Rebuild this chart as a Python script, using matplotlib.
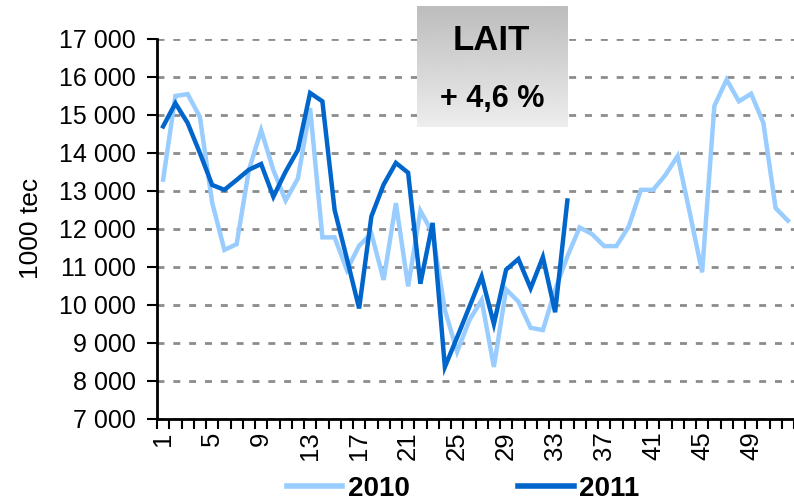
import numpy as np
import matplotlib
matplotlib.use("Agg")
import matplotlib.pyplot as plt
from matplotlib.ticker import FuncFormatter

plt.rcParams['font.family'] = ['Liberation Sans', 'DejaVu Sans']

# weekly milk volumes (1000 tec)
weeks_2010 = np.arange(1, 53)
lait_2010 = [13300, 15500, 15550, 14950, 12700, 11450, 11600, 13550, 14600, 13550,
             12750, 13330, 15180, 11780, 11780, 10920, 11560, 11880, 10660, 12680,
             10490, 12480, 11890, 9870, 8770, 9600, 10130, 8370, 10410, 10090,
             9400, 9340, 10400, 11280, 12040, 11870, 11550, 11550, 12060, 13030,
             13030, 13420, 13920, 12410, 10860, 15240, 15930, 15360, 15560, 14790,
             12550, 12220]
weeks_2011 = np.arange(1, 35)
lait_2011 = [14700, 15310, 14790, 14000, 13160, 13030, 13290, 13560, 13710, 12850,
             13510, 14080, 15580, 15360, 12500, 11220, 9910, 12330, 13170, 13740,
             13480, 10560, 12160, 8370, 9150, 9950, 10750, 9500, 10930, 11210,
             10440, 11260, 9810, 12750]
week_labels = list(range(1, 50, 4))
title = "LAIT"
change = "+ 4,6 %"

W, H = 794, 503
fig = plt.figure(figsize=(W / 100, H / 100), dpi=100)
ax = fig.add_axes([157 / W, 1 - 419 / H, 1 - 157 / W, 380 / H])

ax.plot(weeks_2010, lait_2010, color="#99ccff", lw=3.2, label="2010", solid_joinstyle="miter")
ax.plot(weeks_2011, lait_2011, color="#0066cc", lw=3.2, label="2011", solid_joinstyle="miter")

ax.set_ylim(7000, 17000)
ax.set_xlim(0.5, 52.06)
ax.set_yticks(np.arange(7000, 17001, 1000))
ax.yaxis.set_major_formatter(FuncFormatter(lambda v, p: f"{int(v):,}".replace(",", " ")))
ax.grid(axis="y", color="#8c8c8c", lw=2, linestyle=(0, (2.5, 3.2)))
ax.set_axisbelow(True)

ax.set_xticks(np.arange(0.5, 53, 1))
ax.set_xticklabels([])
ax.set_xticks(week_labels, minor=True)
ax.set_xticklabels([str(w) for w in week_labels], minor=True, rotation=90, fontsize=18.5)
ax.tick_params(axis="x", which="major", direction="out", length=7, width=1.5)
ax.tick_params(axis="x", which="minor", length=0, pad=9)
ax.tick_params(axis="y", direction="out", length=7, width=1.5, pad=8, labelsize=18)

for s in ["top", "right"]:
    ax.spines[s].set_visible(False)
for s in ["left", "bottom"]:
    ax.spines[s].set_linewidth(2)

fig.text(31 / W, 1 - 228 / H, "1000 tec", rotation=90, ha="center", va="center", fontsize=19)

leg = fig.legend(loc="center", bbox_to_anchor=(463 / W, 1 - 489 / H), ncol=2, frameon=False,
                 prop={"weight": "bold", "size": 20}, handlelength=2.0, handletextpad=0.2,
                 columnspacing=3.9)
for line in leg.get_lines():
    line.set_linewidth(4)

# title box with a gray gradient
bx = fig.add_axes([417 / W, 1 - 127 / H, 151 / W, 121 / H])
grad = np.linspace(0.74, 0.93, 100).reshape(-1, 1)
bx.imshow(grad, cmap="gray", vmin=0, vmax=1, aspect="auto", extent=[0, 1, 0, 1], origin="upper")
bx.set_axis_off()
fig.text(491 / W, 1 - 40 / H, title, ha="center", va="center", fontsize=25, weight="bold")
fig.text(492 / W, 1 - 99 / H, change, ha="center", va="center", fontsize=22, weight="bold")

fig.savefig("out.png", dpi=100)
